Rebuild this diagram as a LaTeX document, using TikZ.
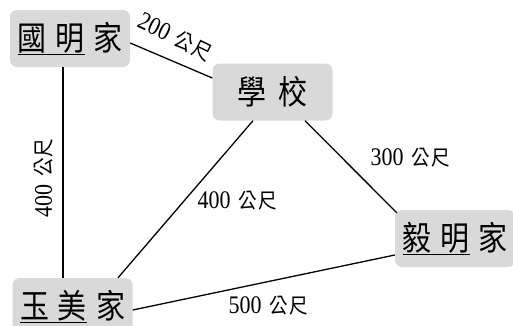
\documentclass[tikz,border=0pt]{standalone}
\usepackage{fontspec}
\usepackage{graphicx}
\newfontfamily\cjk{Noto Sans CJK TC}
\newfontfamily\numf{Liberation Serif}
\newcommand{\stretchy}[1]{\scalebox{1}[1.15]{#1}}
\newcommand{\dist}[1]{\stretchy{\numf\fontsize{22}{22}\selectfont #1\hspace{8pt}\cjk\fontsize{18.5}{18.5}\selectfont 公\hspace{1pt}尺}}
\newcommand{\bigcjk}[1]{\stretchy{\cjk\fontsize{29}{29}\selectfont #1}}
\tikzset{
  place/.style={fill=black!15, rounded corners=7pt, minimum width=120pt, minimum height=57pt, inner sep=0pt},
  link/.style={line width=1.3pt, black},
  lbl/.style={inner sep=0pt}
}
\begin{document}
\begin{tikzpicture}[x=1pt,y=-1pt]
\useasboundingbox (0,0) rectangle (513,325);
\clip (0,0) rectangle (513,325);
\node[place] (a) at (70,38.5) {\bigcjk{\underline{國\hspace{9pt}明}\hspace{9pt}家}};
\node[place] (b) at (272.5,92) {\bigcjk{學\hspace{12pt}校}};
\node[place] (c) at (455,238.5) {\bigcjk{\underline{毅\hspace{9pt}明}\hspace{9pt}家}};
\node[place] (d) at (72.5,306.5) {\bigcjk{\underline{玉\hspace{9pt}美}\hspace{9pt}家}};
\draw[link] ([yshift=-4.5pt]a.east) -- ([yshift=14pt]b.west);
\draw[link] ([xshift=-7pt]a.south) -- ([xshift=-7pt]a.south |- d.north);
\draw[link] ([xshift=-19.5pt]b.south) -- ([xshift=45.5pt]d.north);
\draw[link] ([xshift=32.5pt]b.south) -- ([xshift=2pt,yshift=-3pt]c.north west);
\draw[link] ([yshift=-3.5pt]d.east) -- ([yshift=-16.5pt]c.west);
\node[lbl, rotate=-26] (l1) at (175,37) {\dist{200}};
\node[lbl, rotate=90] (l2) at (44,178) {\dist{400}};
\node[lbl] (l3) at (237,201) {\dist{400}};
\node[lbl] (l4) at (410,158) {\dist{300}};
\node[lbl] (l5) at (268,306) {\dist{500}};
\end{tikzpicture}
\end{document}
